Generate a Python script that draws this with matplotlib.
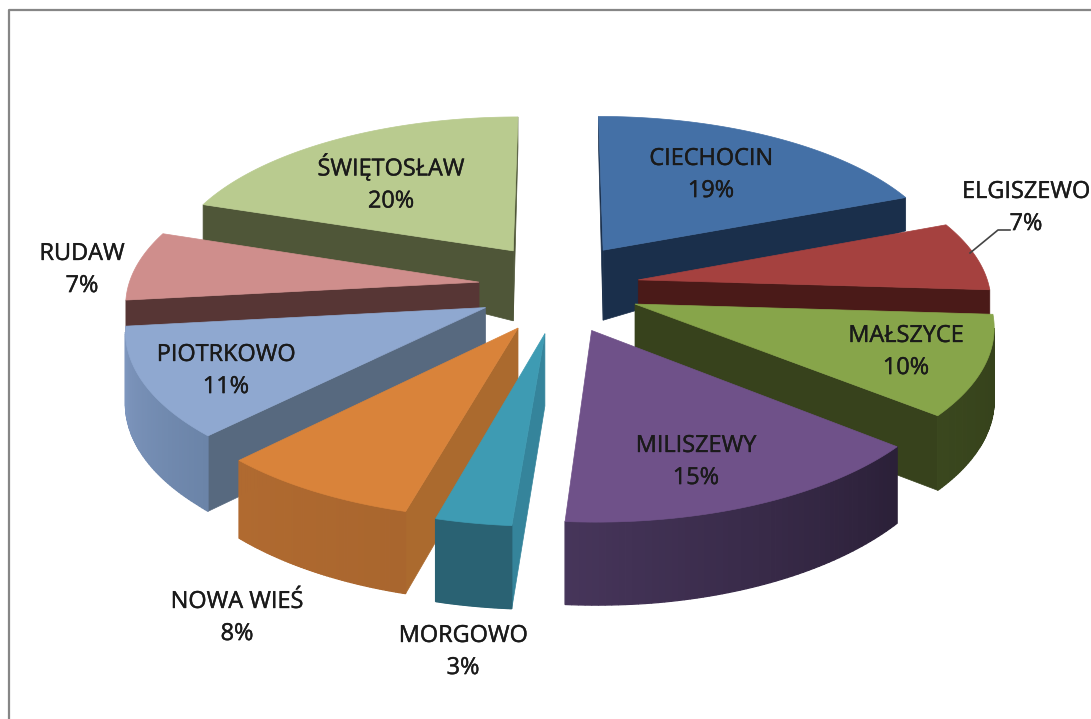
import numpy as np
import matplotlib
matplotlib.use("Agg")
import matplotlib.pyplot as plt
import matplotlib.patheffects as pe
from matplotlib.colors import to_rgb
from matplotlib.patches import Polygon

plt.rcParams["font.family"] = ["Open Sans", "DejaVu Sans"]

labels = ["CIECHOCIN", "ELGISZEWO", "MAŁSZYCE", "MILISZEWY", "MORGOWO",
          "NOWA WIEŚ", "PIOTRKOWO", "RUDAW", "ŚWIĘTOSŁAW"]
# shares, the labels show them rounded
values = [19.0, 7.0, 10.0, 15.2, 3.0, 8.0, 11.0, 7.0, 19.8]

top_colors = ["#4470A6", "#A5413F", "#87A54A", "#6F5189", "#3E9BB3",
              "#D9833A", "#8FA8D0", "#CF8E8C", "#B9CB8F"]
side_colors = ["#1A2F4B", "#4A1A18", "#37421C", "#2E2240", "#35849B",
               "#AB6A2E", "#57697F", "#573635", "#4F5638"]
wall_start = ["#1A2F4B", "#4A1A18", "#34401A", "#2B2038", "#2A6273",
              "#A9662E", "#6B84A8", "#573635", "#4F5638"]
wall_end = ["#1A2F4B", "#4A1A18", "#3A471E", "#46355A", "#2A6273",
            "#B06A30", "#8098C0", "#573635", "#4F5638"]

label_xy = [(711, 175), (1026, 208), (906, 352), (696, 462), (463, 652),
            (237, 618), (226, 371), (82, 270), (391, 183)]

# projection of the pie, radius 1
CX, CY = 559, 287
FOCAL_X = 2965
FOCAL_Y = 1333
DIST = 8.45
EXPLODE_X = 0.23
EXPLODE_Y = 0.29
# wall height in pixels against the y of the top edge
HEIGHT_Y = [117, 197, 250, 430, 520, 610]
HEIGHT_PX = [30, 33, 70, 75, 83, 85]


def project_top(x, y):
    w = DIST - y
    return np.column_stack([CX + FOCAL_X * x / w, CY + FOCAL_Y * y / w])


def drop(pts):
    out = pts.copy()
    out[:, 1] += np.interp(pts[:, 1], HEIGHT_Y, HEIGHT_PX)
    return out


def signed_area(pts):
    x, y = pts[:, 0], pts[:, 1]
    return 0.5 * np.sum(x * np.roll(y, -1) - np.roll(x, -1) * y)


def draw_face(ax, pts, color, zorder, lw=0.5):
    ax.add_patch(Polygon(pts, closed=True, facecolor=color, edgecolor=color,
                         linewidth=lw, zorder=zorder))


def draw_wedge(ax, start, end, idx, zorder):
    mid = (start + end) / 2
    ox, oy = EXPLODE_X * np.sin(mid), -EXPLODE_Y * np.cos(mid)
    ang = np.linspace(start, end, 60)
    rim_t = project_top(ox + np.sin(ang), oy - np.cos(ang))
    rim_b = drop(rim_t)
    apex_t = project_top(np.array([ox]), np.array([oy]))
    apex_b = drop(apex_t)

    face1 = np.vstack([apex_t, apex_b, rim_b[:1], rim_t[:1]])
    face2 = np.vstack([apex_t, rim_t[-1:], rim_b[-1:], apex_b])
    for face in (face1, face2):
        if signed_area(face) > 0:
            draw_face(ax, face, side_colors[idx], zorder)

    c0, c1 = np.array(to_rgb(wall_start[idx])), np.array(to_rgb(wall_end[idx]))
    for i in range(len(ang) - 1):
        strip = np.vstack([rim_t[i], rim_t[i + 1], rim_b[i + 1], rim_b[i]])
        if signed_area(strip) < 0:
            draw_face(ax, strip, c0 + (c1 - c0) * i / (len(ang) - 2), zorder + 0.1, lw=0.9)

    draw_face(ax, np.vstack([apex_t, rim_t]), top_colors[idx], zorder + 0.2)


fig = plt.figure(figsize=(10.91, 7.19), dpi=100)
ax = fig.add_axes([0, 0, 1, 1])
ax.set_xlim(0, 1091)
ax.set_ylim(719, 0)
ax.axis("off")

# chart frame, runs off the right and bottom of the picture
ax.plot([9, 9, 1091], [719, 10, 10], color="#868686", lw=1.6, zorder=1)

fracs = np.array(values) / sum(values)
edges = np.r_[0, np.cumsum(fracs)] * 2 * np.pi
mids = (edges[:-1] + edges[1:]) / 2
order = np.argsort(-np.cos(mids))
for rank, i in enumerate(order):
    draw_wedge(ax, edges[i], edges[i + 1], i, 2 + rank)

for name, val, (tx, ty) in zip(labels, values, label_xy):
    txt = ax.text(tx, ty, f"{name}\n{round(val)}%", ha="center", va="center", fontsize=16.9,
                  color="#1A1A1A", linespacing=1.45, zorder=50)
    txt.set_path_effects([pe.withStroke(linewidth=0.3, foreground="#1A1A1A")])

ax.plot([970, 998, 1010], [253, 230, 230], color="#444444", lw=1.2, zorder=49)

fig.savefig("out.png", dpi=100)
